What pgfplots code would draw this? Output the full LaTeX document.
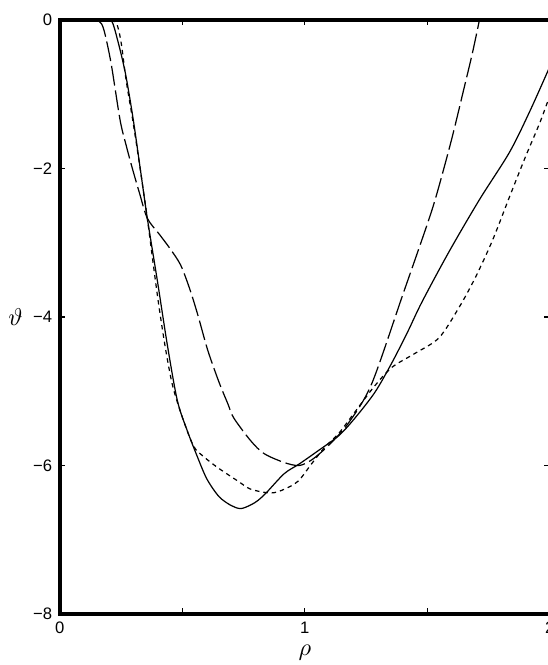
\documentclass[border=0pt]{standalone}
\usepackage{pgfplots}
\pgfplotsset{compat=1.18}
\usepackage{fontspec}
\setmainfont{Liberation Sans}

% potential curves theta(rho)
\pgfplotstableread{
rho theta
0.150 0.00
0.170 -0.05
0.185 -0.20
0.210 -0.60
0.246 -1.35
0.270 -1.68
0.296 -2.00
0.325 -2.33
0.357 -2.67
0.407 -2.89
0.450 -3.08
0.493 -3.30
0.530 -3.62
0.563 -3.97
0.604 -4.45
0.650 -4.88
0.686 -5.17
0.710 -5.36
0.780 -5.67
0.834 -5.84
0.916 -5.96
0.977 -6.00
1.030 -5.92
1.100 -5.72
1.180 -5.42
1.273 -4.90
1.400 -3.70
1.500 -2.75
1.540 -2.33
1.600 -1.60
1.650 -0.92
1.684 -0.45
1.713 0.00
}\chaincurve

\pgfplotstableread{
rho theta
0.190 0.00
0.214 -0.03
0.238 -0.30
0.260 -0.60
0.275 -0.85
0.300 -1.35
0.329 -2.02
0.357 -2.67
0.398 -3.51
0.440 -4.40
0.480 -5.13
0.520 -5.53
0.560 -5.87
0.600 -6.18
0.650 -6.42
0.700 -6.54
0.739 -6.58
0.780 -6.53
0.809 -6.47
0.842 -6.37
0.916 -6.11
0.977 -5.98
1.055 -5.80
1.138 -5.60
1.200 -5.38
1.285 -5.02
1.355 -4.62
1.420 -4.20
1.478 -3.80
1.589 -3.12
1.713 -2.42
1.836 -1.78
1.920 -1.22
2.000 -0.63
}\solidcurve

\pgfplotstableread{
rho theta
0.210 0.00
0.232 -0.05
0.250 -0.30
0.270 -0.80
0.300 -1.40
0.330 -2.05
0.357 -2.67
0.370 -3.00
0.400 -3.75
0.430 -4.40
0.460 -4.92
0.500 -5.35
0.546 -5.74
0.587 -5.88
0.645 -6.03
0.727 -6.21
0.780 -6.32
0.862 -6.37
0.916 -6.32
0.973 -6.21
1.027 -5.98
1.080 -5.76
1.138 -5.57
1.200 -5.30
1.280 -4.95
1.355 -4.68
1.450 -4.49
1.548 -4.28
1.630 -3.87
1.696 -3.47
1.766 -2.97
1.836 -2.38
1.900 -1.85
1.960 -1.38
2.000 -1.02
}\dashcurve

\begin{document}
\begin{tikzpicture}
\begin{axis}[
  width=221pt, height=268pt, scale only axis,
  xmin=0, xmax=2, ymin=-8, ymax=0,
  xtick={0,1,2}, xticklabels={0,1,2},
  minor xtick={0.5,1.5},
  ytick={-8,-6,-4,-2,0}, yticklabels={−8,−6,−4,−2,0},
  xticklabel pos=lower, yticklabel pos=left,
  tick align=inside,
  major tick length=2.5pt, minor tick length=2.5pt,
  tick style={black, line width=0.6pt},
  axis line style={line width=1.6pt},
  ticklabel style={font=\fontsize{7.5}{9}\selectfont},
  xlabel style={at={(rel axis cs:0.5,0)}, anchor=north, yshift=-13pt, inner sep=1pt},
  ylabel style={at={(rel axis cs:0,0.5)}, anchor=center, rotate=-90, xshift=-20pt},
  xlabel={\fontsize{11}{12}\selectfont$\rho$},
  ylabel={\fontsize{11}{12}\selectfont$\vartheta$},
  clip=true,
]
\addplot[black, line width=0.55pt, smooth, tension=0.5,
  dash pattern=on 9pt off 2.2pt] table[x=rho,y=theta] {\chaincurve};
\addplot[black, line width=0.55pt, smooth, tension=0.5] table[x=rho,y=theta] {\solidcurve};
\addplot[black, line width=0.55pt, smooth, tension=0.5,
  dash pattern=on 2pt off 1.8pt] table[x=rho,y=theta] {\dashcurve};
\coordinate (sw) at (rel axis cs:0,0);
\coordinate (ne) at (rel axis cs:1,1);
\end{axis}
\pgfresetboundingbox
\path ([shift={(-27pt,-23pt)}]sw) rectangle ([shift={(-1.2pt,9pt)}]ne);
\end{tikzpicture}
\end{document}
